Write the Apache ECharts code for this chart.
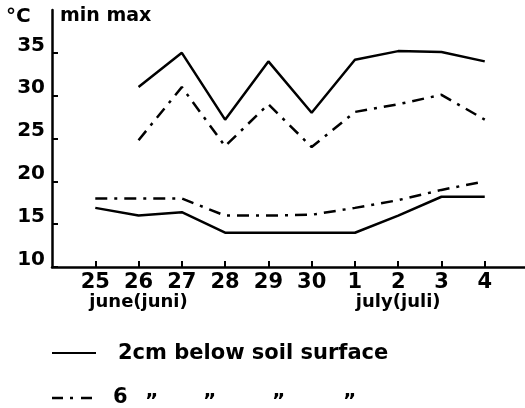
<!DOCTYPE html>
<html><head><meta charset="utf-8">
<script src="https://cdn.jsdelivr.net/npm/echarts@6/dist/echarts.min.js"></script>
<style>html,body{margin:0;padding:0;background:#fff}#c{width:525px;height:408px}</style>
</head><body><div id="c"></div>
<script>
const days = ['25','26','27','28','29','30','1','2','3','4'];
const yTicks = [10,15,20,25,30,35];
const max2cm = [null,31,35,27.2,34,28,34.2,35.2,35.1,34];
const max6cm = [null,24.8,31,24.1,29,24,28.1,29,30.1,27.2];
const min6cm = [18,18,18,16,16,16.1,16.9,17.8,19,20];
const min2cm = [16.9,16,16.4,14,14,14,14,16,18.2,18.2];
const monthLabels = [['june(juni)',1],['july(juli)',7]];
const legendTexts = ['2cm below soil surface','6'];

const FONT = '"DejaVu Sans", sans-serif';
const pairs = arr => arr.map((v,i)=> v==null ? null : [i,v]).filter(p=>p);
const dashDot = [12,7,3,7];
const chart = echarts.init(document.getElementById('c'));
const idx = days.map((d,i)=>i);
const step = (525-52)/10.93;
const base = {type:'line', symbol:'none', silent:true, lineStyle:{color:'#000', width:2.5}};
chart.setOption({
  animation:false,
  grid:{left:52, right:0, top:10, bottom:141, containLabel:false, outerBoundsMode:'none'},
  xAxis:{type:'value', min:-1, max:9.93,
    axisLine:{show:true, onZero:false, lineStyle:{color:'#000', width:2.5}},
    axisTick:{show:true, inside:true, length:6, lineStyle:{color:'#000', width:2}, customValues:idx},
    axisLabel:{customValues:idx, formatter:v=>days[Math.round(v)], color:'#000', fontFamily:FONT, fontWeight:'bold', fontSize:21, margin:5},
    splitLine:{show:false}},
  yAxis:{type:'value', min:10, max:40,
    axisLine:{show:true, onZero:false, lineStyle:{color:'#000', width:2.5}},
    axisTick:{show:true, inside:true, length:6, lineStyle:{color:'#000', width:2}, customValues:yTicks},
    axisLabel:{customValues:yTicks, color:'#000', fontFamily:FONT, fontWeight:'bold', fontSize:20, margin:7, verticalAlign:'bottom', lineHeight:15},
    splitLine:{show:false}},
  series:[
    Object.assign({}, base, {data:pairs(max2cm)}),
    Object.assign({}, base, {data:pairs(max6cm), lineStyle:{color:'#000', width:2.5, type:dashDot}}),
    Object.assign({}, base, {data:pairs(min6cm), lineStyle:{color:'#000', width:2.5, type:dashDot}}),
    Object.assign({}, base, {data:pairs(min2cm)})
  ],
  graphic:[
    {type:'text', x:6, y:7, style:{text:'°C', font:'bold 20px '+FONT, fill:'#000'}},
    {type:'text', x:60, y:7, style:{text:'min max', font:'bold 19px '+FONT, fill:'#000'}},
    ...monthLabels.map(([t,i])=>({type:'text', x:52 + (i+1)*step, y:293,
      style:{text:t, font:'bold 18px '+FONT, fill:'#000', align:'center', verticalAlign:'top'}})),
    {type:'line', shape:{x1:52,y1:353,x2:96,y2:353}, style:{stroke:'#000', lineWidth:2}},
    {type:'line', shape:{x1:52,y1:398,x2:96,y2:398}, style:{stroke:'#000', lineWidth:2.5, lineDash:[11,7,3,8]}},
    {type:'text', x:118, y:354, style:{text:legendTexts[0], font:'bold 21px '+FONT, fill:'#000', verticalAlign:'middle'}},
    {type:'text', x:113, y:398, style:{text:legendTexts[1], font:'bold 21px '+FONT, fill:'#000', verticalAlign:'middle'}},
    ...[145,203,272,343].map(x=>({type:'text', x:x, y:402, style:{text:'”', font:'bold 20px '+FONT, fill:'#000', verticalAlign:'middle'}}))
  ]
});
</script></body></html>
